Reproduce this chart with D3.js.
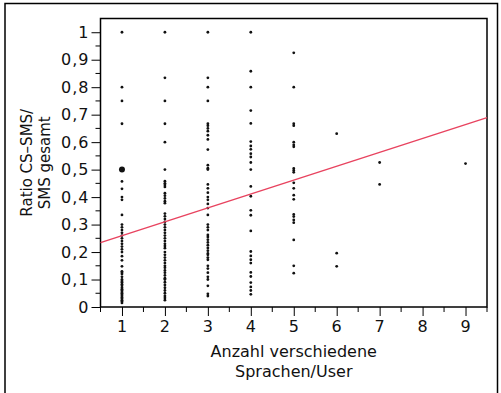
<!DOCTYPE html>
<html>
<head>
<meta charset="utf-8">
<script src="https://cdn.jsdelivr.net/npm/d3@7"></script>
<style>
  body { margin: 0; background: #fff; }
  svg text { font-family: "DejaVu Sans", sans-serif; fill: #111; }
</style>
</head>
<body>
<div id="chart"></div>
<script>
// values per number of languages (x)
var xTicks = [1, 2, 3, 4, 5, 6, 7, 8, 9];
var yTicks = [0, 0.1, 0.2, 0.3, 0.4, 0.5, 0.6, 0.7, 0.8, 0.9, 1];
var col1 = [1.0, 0.80, 0.75, 0.667, 0.5, 0.457, 0.43, 0.40, 0.39, 0.335, 0.30, 0.29, 0.28, 0.27,
  0.26, 0.25, 0.24, 0.23, 0.22, 0.21, 0.2, 0.185, 0.17, 0.148, 0.13, 0.125, 0.12, 0.11, 0.1, 0.095,
  0.09, 0.083, 0.077, 0.07, 0.065, 0.06, 0.055, 0.05, 0.045, 0.04, 0.035, 0.03, 0.025, 0.02, 0.015];
var col2 = [1.0, 0.834, 0.75, 0.667, 0.60, 0.5, 0.458, 0.45, 0.444, 0.437, 0.414, 0.405, 0.395,
  0.385, 0.378, 0.34, 0.33, 0.32, 0.31, 0.30, 0.29, 0.28, 0.27, 0.26, 0.25, 0.24, 0.23, 0.222,
  0.214, 0.2, 0.19, 0.18, 0.17, 0.16, 0.15, 0.143, 0.133, 0.125, 0.115, 0.105, 0.1, 0.09, 0.08,
  0.07, 0.06, 0.05, 0.04, 0.033, 0.025];
var col3 = [1.0, 0.834, 0.80, 0.75, 0.667, 0.66, 0.65, 0.64, 0.625, 0.61, 0.573, 0.516, 0.505, 0.5,
  0.446, 0.432, 0.416, 0.40, 0.39, 0.375, 0.36, 0.335, 0.30, 0.29, 0.28, 0.262, 0.255, 0.245, 0.235,
  0.225, 0.215, 0.205, 0.195, 0.19, 0.18, 0.172, 0.15, 0.14, 0.125, 0.11, 0.1, 0.077, 0.048, 0.04];
var col4 = [1.0, 0.858, 0.80, 0.715, 0.668, 0.602, 0.586, 0.574, 0.558, 0.546, 0.526, 0.50, 0.439,
  0.403, 0.352, 0.334, 0.277, 0.202, 0.186, 0.172, 0.16, 0.126, 0.111, 0.089, 0.073, 0.06, 0.046];
var col5 = [0.925, 0.80, 0.667, 0.66, 0.60, 0.59, 0.583, 0.504, 0.497, 0.49, 0.452, 0.432, 0.407,
  0.392, 0.337, 0.329, 0.317, 0.307, 0.244, 0.15, 0.123];
var col6 = [0.631, 0.196, 0.148];
var col7 = [0.526, 0.446];
var col8 = [];
var col9 = [0.522];
// overlapping points drawn bigger
var heavyPoints = [[1, 0.5]];
// fitted line, end points at the plot edges
var fitLine = [[0.5, 0.234], [9.5, 0.689]];

var W = 501, H = 393;
var margin = {left: 100.5, right: 14, top: 18.5, bottom: 86};

var svg = d3.select("#chart").append("svg")
  .attr("width", W).attr("height", H);

// outer frame
svg.append("path")
  .attr("d", "M5,393V3.5H497.5V393")
  .attr("fill", "none").attr("stroke", "#000").attr("stroke-width", 1.5);

var x = d3.scaleLinear().domain([0.5, 9.5]).range([margin.left, W - margin.right]);
var y = d3.scaleLinear().domain([0, 1.05]).range([H - margin.bottom, margin.top]);

var cols = [col1, col2, col3, col4, col5, col6, col7, col8, col9];
var points = [];
cols.forEach(function (c, i) {
  c.forEach(function (v) { points.push([xTicks[i], v]); });
});

// y axis
var yAxis = d3.axisLeft(y).tickValues(yTicks).tickSize(9).tickPadding(2)
  .tickFormat(function (d) { return d === 0 || d === 1 ? d : d3.format(".1f")(d).replace(".", ","); });
var gy = svg.append("g").attr("transform", "translate(" + margin.left + ",0)").call(yAxis);
gy.append("g").selectAll("line")
  .data(d3.range(0.05, 1.05, 0.1))
  .enter().append("line")
  .attr("x1", -5).attr("x2", 0)
  .attr("y1", function (d) { return y(d); }).attr("y2", function (d) { return y(d); })
  .attr("stroke", "#000");

// x axis
var xAxis = d3.axisBottom(x).tickValues(xTicks).tickSize(9).tickPadding(5);
var gx = svg.append("g").attr("transform", "translate(0," + (H - margin.bottom) + ")").call(xAxis);
gx.append("g").selectAll("line")
  .data(d3.range(0.5, 10, 1))
  .enter().append("line")
  .attr("y1", 0).attr("y2", 5)
  .attr("x1", function (d) { return x(d); }).attr("x2", function (d) { return x(d); })
  .attr("stroke", "#000");

[gx, gy].forEach(function (g) {
  g.select(".domain").remove();
  g.selectAll(".tick line").attr("stroke", "#000");
  g.selectAll("text").style("font-size", "16px").style("letter-spacing", "1px").attr("fill", "#111");
});

// plot frame
svg.append("rect")
  .attr("x", margin.left).attr("y", margin.top)
  .attr("width", W - margin.left - margin.right)
  .attr("height", H - margin.top - margin.bottom)
  .attr("fill", "none").attr("stroke", "#000").attr("stroke-width", 1.5);

// points
svg.append("g").selectAll("circle")
  .data(points)
  .enter().append("circle")
  .attr("cx", function (d) { return x(d[0]); })
  .attr("cy", function (d) { return y(d[1]); })
  .attr("r", 1.4)
  .attr("fill", "#111");

svg.append("g").selectAll("circle")
  .data(heavyPoints)
  .enter().append("circle")
  .attr("cx", function (d) { return x(d[0]); })
  .attr("cy", function (d) { return y(d[1]); })
  .attr("r", 3)
  .attr("fill", "#111");

// fit line
svg.append("path")
  .datum(fitLine)
  .attr("d", d3.line().x(function (d) { return x(d[0]); }).y(function (d) { return y(d[1]); }))
  .attr("fill", "none").attr("stroke", "#e8435f").attr("stroke-width", 1.4);

// axis titles
var cx = (x.range()[0] + x.range()[1]) / 2;
svg.append("text").attr("x", cx).attr("y", 357).attr("text-anchor", "middle")
  .style("font-size", "16px").text("Anzahl verschiedene");
svg.append("text").attr("x", cx).attr("y", 377).attr("text-anchor", "middle")
  .style("font-size", "16px").text("Sprachen/User");

var cy = (y.range()[0] + y.range()[1]) / 2;
svg.append("text").attr("transform", "translate(32," + cy + ") rotate(-90)")
  .attr("text-anchor", "middle").style("font-size", "15px").text("Ratio CS\u2013SMS/");
svg.append("text").attr("transform", "translate(50," + cy + ") rotate(-90)")
  .attr("text-anchor", "middle").style("font-size", "15px").text("SMS gesamt");
</script>
</body>
</html>
